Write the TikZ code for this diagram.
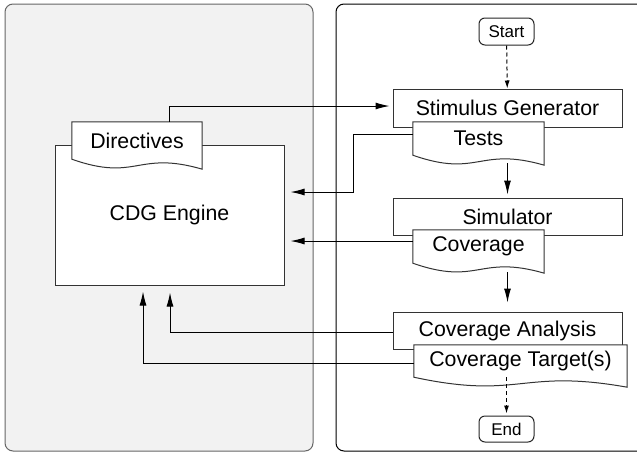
\documentclass[tikz,border=0pt]{standalone}
\usepackage{fontspec}
\setmainfont{Liberation Sans}
\usetikzlibrary{arrows.meta,calc}

\tikzset{
    panel/.style={rounded corners=8pt, line width=1pt},
    process/.style={rectangle, draw=black!80, fill=white, line width=1pt,
        inner sep=0pt, minimum width=229pt},
    terminal/.style={rectangle, rounded corners=6pt, draw=black!85, fill=white,
        line width=1pt, inner sep=0pt, minimum width=55pt, minimum height=27pt,
        font=\fontsize{17}{20}\selectfont},
    docbox/.style={rectangle, inner sep=0pt},
    docline/.style={draw=black!80, fill=white, line width=1pt},
    flow/.style={-{Latex[length=14pt,width=7pt]}, line width=1pt},
    startend/.style={-{Latex[length=8pt,width=5pt]}, dash pattern=on 4pt off 3pt,
        line width=1pt}
}

% document shape: name, x, y, width, height, text
\newcommand{\docnode}[6]{%
    \node (#1) [docbox, minimum width=#4pt, minimum height=#5pt, shift={(#2,#3)}] {};
    \draw[docline] (#1.south west) -- (#1.north west) -- (#1.north east)
        -- ($(#1.south east)+(0,10)$)
        .. controls ($(#1.south)+(0,-9)$) and ($(#1.south)+(0,23)$) .. (#1.south west)
        -- cycle;
    \node (#1_text) [shift={(#2,#3)}] {#6};
}

\begin{document}
\begin{tikzpicture}[x=1pt, y=-1pt, every node/.style={
    font=\fontsize{21.3}{25}\selectfont
}]
    \useasboundingbox (0,0) rectangle (637,453);
    % panels
    \draw[panel, draw=black!60, fill=black!5] (5,4) rectangle (313,451);
    \draw[panel, draw=black, fill=white] (336,4) rectangle (660,451);

    \node (cdg_engine) [process, minimum height=140pt, shift={(169.5,215)}]
    {
        CDG Engine
    };
    \docnode{directives}{137}{140.5}{130}{37}{Directives}

    \node (start) [terminal, shift={(506.5,31.5)}]
    {
        Start
    };
    \node (stimulus_generator) [process, minimum height=38pt, shift={(507.5,108)}]
    {
        Stimulus Generator
    };
    \docnode{tests}{478.5}{138.5}{131}{33}{Tests}
    \node (simulator) [process, minimum height=37pt, shift={(507.5,216.5)}]
    {
        Simulator
    };
    \docnode{coverage}{478.5}{246.5}{131}{33}{Coverage}
    \node (coverage_analysis) [process, minimum height=37pt, shift={(507.5,330.5)}]
    {
        Coverage Analysis
    };
    \docnode{coverage_target}{520.5}{361}{213}{32}{Coverage Target(s)}
    \node (end) [terminal, minimum height=26pt, shift={(506.5,429)}]
    {
        End
    };

    \draw[startend] (start) to (stimulus_generator);
    \draw[flow, shorten <=8pt, shorten >=3pt] (simulator.north |- tests.south) to (simulator.north);
    \draw[flow, shorten <=9pt, shorten >=9pt] (coverage_analysis.north |- coverage.south) to (coverage_analysis.north);
    \draw[startend, shorten >=2pt] (end.north |- coverage_target.south) to (end.north);

    \draw[flow, shorten >=3pt] ([xshift=32pt]directives.north) |- ([yshift=2pt]stimulus_generator.west);
    \draw[flow, shorten >=6pt] ([yshift=4.5pt]tests.west) -- ++(-59,0) |- ([yshift=23pt]cdg_engine.east);
    \draw[flow, shorten >=6pt] ([yshift=5.5pt]coverage.west) to ([yshift=-26pt]cdg_engine.east);
    \draw[flow, shorten >=7pt] ([yshift=-1.5pt]coverage_analysis.west) -| ([xshift=0.5pt]cdg_engine.south);
    \draw[flow, shorten >=6pt] ([yshift=-2pt]coverage_target.west) -| ([xshift=-26.5pt]cdg_engine.south);
\end{tikzpicture}
\end{document}
